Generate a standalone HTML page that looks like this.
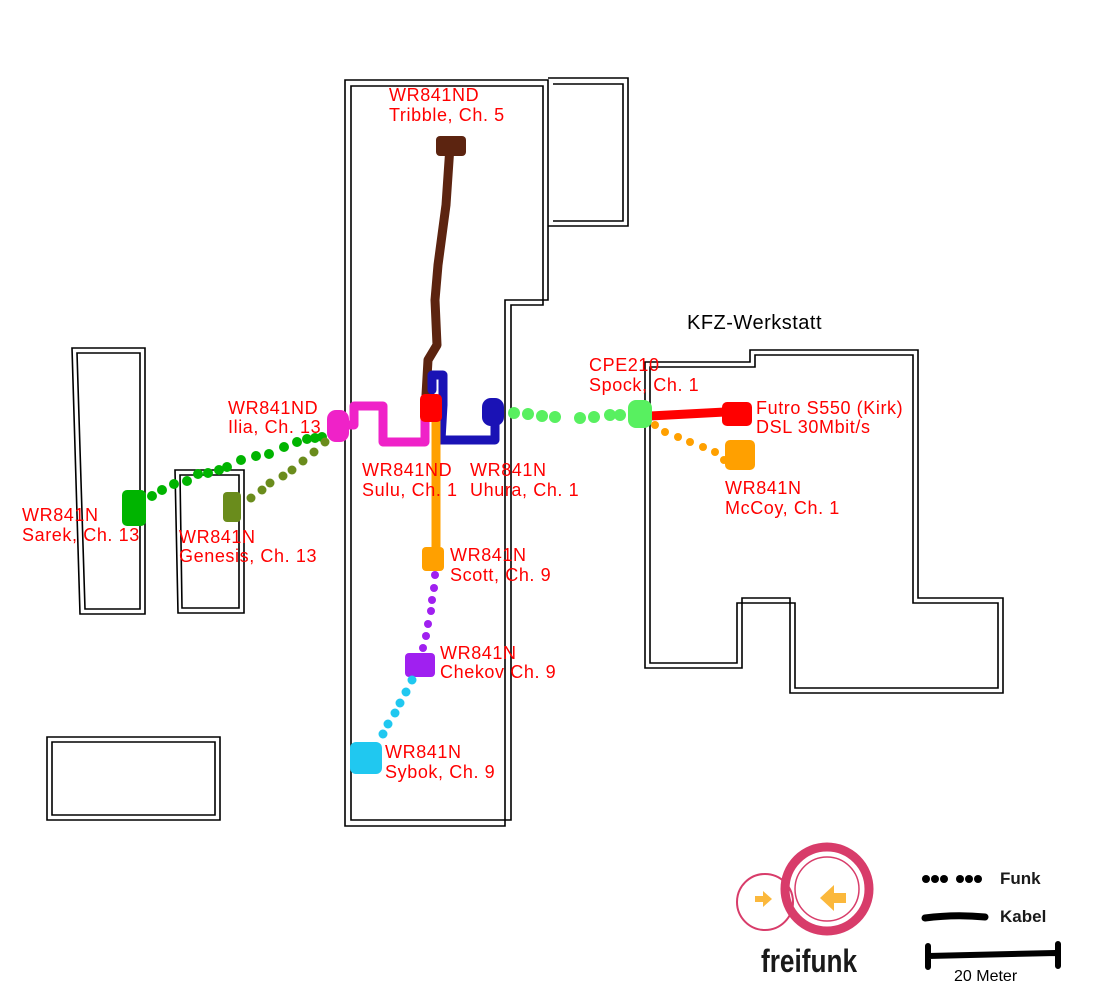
<!DOCTYPE html>
<html><head><meta charset="utf-8"><style>
html,body{margin:0;padding:0;background:#fff;width:1100px;height:1004px;overflow:hidden}
svg{display:block}
.l{font-family:"Liberation Sans",sans-serif;font-size:18px;letter-spacing:0.6px;fill:#ff0000}
.b{fill:none;stroke:#000;stroke-width:1.6}
</style></head><body>
<svg width="1100" height="1004" viewBox="0 0 1100 1004">
<g class="b">
<path d="M345,80 H548 V300 H505 V826 H345 Z"/>
<path d="M351,86 H543 V305 H511 V820 H351 Z"/>
<path d="M548,78 H628 V226 H548"/>
<path d="M553,84 H623 V221 H553"/>
<path d="M645,362 H750 V350 H918 V598 H1003 V693 H790 V598 H742 V668 H645 Z"/>
<path d="M650,367 H755 V355 H913 V603 H998 V688 H795 V603 H737 V663 H650 Z"/>
<path d="M72,348 H145 V614 H80 Z"/>
<path d="M77,353 H140 V609 H85 Z"/>
<path d="M175,470 H244 V613 H178 Z"/>
<path d="M180,475 H239 V608 H182 Z"/>
<path d="M47,737 H220 V820 H47 Z"/>
<path d="M52,742 H215 V815 H52 Z"/>
</g>
<g fill="none" stroke-linecap="round" stroke-linejoin="round" stroke-width="9">
<path d="M450,146 L446,205 438,265 435,300 437,345 428,360 426,395" stroke="#5c2410"/>
<path d="M337,425 H354 V406 H383 V442 H425 V410" stroke="#ef22c8"/>
<path d="M432,390 V375 H443 V405 L441,440 H495 V412" stroke="#1a12b5"/>
<path d="M436,420 V560" stroke="#ffa000"/>
<path d="M650,416 L725,412" stroke="#ff0000"/>
</g>
<rect x="436" y="136" width="30" height="20" rx="4" fill="#5c2410"/>
<rect x="420" y="394" width="22" height="28" rx="5" fill="#ff0000"/>
<rect x="327" y="410" width="22" height="32" rx="9" fill="#ef22c8"/>
<rect x="482" y="398" width="22" height="28" rx="9" fill="#1a12b5"/>
<rect x="422" y="547" width="22" height="24" rx="4" fill="#ffa000"/>
<rect x="405" y="653" width="30" height="24" rx="4" fill="#a020f0"/>
<rect x="350" y="742" width="32" height="32" rx="6" fill="#20c8f0"/>
<rect x="628" y="400" width="24" height="28" rx="8" fill="#58f060"/>
<rect x="722" y="402" width="30" height="24" rx="5" fill="#ff0000"/>
<rect x="725" y="440" width="30" height="30" rx="5" fill="#ffa000"/>
<rect x="122" y="490" width="24" height="36" rx="5" fill="#00b400"/>
<rect x="223" y="492" width="18" height="30" rx="4" fill="#6a8c1c"/>
<g fill="#58f060">
<circle cx="514" cy="413" r="6"/><circle cx="528" cy="414" r="6"/><circle cx="542" cy="416" r="6"/><circle cx="555" cy="417" r="6"/><circle cx="580" cy="418" r="6"/><circle cx="594" cy="417" r="6"/><circle cx="610" cy="415" r="6"/><circle cx="620" cy="415" r="6"/>
</g>
<g fill="#ffa000">
<circle cx="655" cy="425" r="4"/><circle cx="665" cy="432" r="4"/><circle cx="678" cy="437" r="4"/><circle cx="690" cy="442" r="4"/><circle cx="703" cy="447" r="4"/><circle cx="715" cy="452" r="4"/><circle cx="724" cy="460" r="4"/>
</g>
<g fill="#a020f0">
<circle cx="435" cy="575" r="4"/><circle cx="434" cy="588" r="4"/><circle cx="432" cy="600" r="4"/><circle cx="431" cy="611" r="4"/><circle cx="428" cy="624" r="4"/><circle cx="426" cy="636" r="4"/><circle cx="423" cy="648" r="4"/>
</g>
<g fill="#20c8f0">
<circle cx="412" cy="680" r="4.5"/><circle cx="406" cy="692" r="4.5"/><circle cx="400" cy="703" r="4.5"/><circle cx="395" cy="713" r="4.5"/><circle cx="388" cy="724" r="4.5"/><circle cx="383" cy="734" r="4.5"/>
</g>
<g fill="#00b400">
<circle cx="152" cy="496" r="5"/><circle cx="162" cy="490" r="5"/><circle cx="174" cy="484" r="5"/><circle cx="187" cy="481" r="5"/><circle cx="198" cy="474" r="5"/><circle cx="208" cy="473" r="5"/><circle cx="219" cy="470" r="5"/><circle cx="227" cy="467" r="5"/><circle cx="241" cy="460" r="5"/><circle cx="256" cy="456" r="5"/><circle cx="269" cy="454" r="5"/><circle cx="284" cy="447" r="5"/><circle cx="297" cy="442" r="5"/><circle cx="307" cy="439" r="5"/><circle cx="315" cy="438" r="5"/><circle cx="322" cy="437" r="5"/>
</g>
<g fill="#6a8c1c">
<circle cx="251" cy="498" r="4.5"/><circle cx="262" cy="490" r="4.5"/><circle cx="270" cy="483" r="4.5"/><circle cx="283" cy="476" r="4.5"/><circle cx="292" cy="470" r="4.5"/><circle cx="303" cy="461" r="4.5"/><circle cx="314" cy="452" r="4.5"/><circle cx="325" cy="442" r="4.5"/>
</g>
<g class="l">
<text x="389" y="101">WR841ND</text><text x="389" y="121">Tribble, Ch. 5</text>
<text x="228" y="414">WR841ND</text><text x="228" y="433">Ilia, Ch. 13</text>
<text x="362" y="476">WR841ND</text><text x="362" y="496">Sulu, Ch. 1</text>
<text x="470" y="476">WR841N</text><text x="470" y="496">Uhura, Ch. 1</text>
<text x="589" y="371">CPE210</text><text x="589" y="391">Spock, Ch. 1</text>
<text x="756" y="414">Futro S550 (Kirk)</text><text x="756" y="433">DSL 30Mbit/s</text>
<text x="725" y="494">WR841N</text><text x="725" y="514">McCoy, Ch. 1</text>
<text x="22" y="521">WR841N</text><text x="22" y="541">Sarek, Ch. 13</text>
<text x="179" y="543">WR841N</text><text x="179" y="562">Genesis, Ch. 13</text>
<text x="450" y="561">WR841N</text><text x="450" y="581">Scott, Ch. 9</text>
<text x="440" y="659">WR841N</text><text x="440" y="678">Chekov Ch. 9</text>
<text x="385" y="758">WR841N</text><text x="385" y="778">Sybok, Ch. 9</text>
</g>
<text x="687" y="329" font-family="Liberation Sans,sans-serif" font-size="20" letter-spacing="0.5" fill="#000">KFZ-Werkstatt</text>
<circle cx="765" cy="902" r="28" fill="none" stroke="#d83c6a" stroke-width="2"/>
<circle cx="827" cy="889" r="42" fill="none" stroke="#d83c6a" stroke-width="9"/>
<circle cx="827" cy="889" r="32" fill="none" stroke="#d83c6a" stroke-width="1.5"/>
<path d="M755,896 h8 v-5 l9,8 -9,8 v-5 h-8z" fill="#fbb83c"/>
<path d="M846,893 h-12 v-8 l-14,13 14,13 v-8 h12z" fill="#fbb83c"/>
<text x="761" y="972" font-family="Liberation Sans,sans-serif" font-weight="bold" font-size="32" fill="#1a1a1a" textLength="96" lengthAdjust="spacingAndGlyphs">freifunk</text>
<g fill="#000">
<circle cx="926" cy="879" r="4"/><circle cx="935" cy="879" r="4"/><circle cx="944" cy="879" r="4"/><circle cx="960" cy="879" r="4"/><circle cx="969" cy="879" r="4"/><circle cx="978" cy="879" r="4"/>
</g>
<path d="M925,918 Q955,914 985,917" stroke="#000" stroke-width="7" stroke-linecap="round" fill="none"/>
<path d="M928,946 V967 M928,956 L1055,953 M1058,944 V966" stroke="#000" stroke-width="6" stroke-linecap="round" fill="none"/>
<g font-family="Liberation Sans,sans-serif" font-weight="bold" font-size="17" fill="#1a1a1a">
<text x="1000" y="884">Funk</text><text x="1000" y="922">Kabel</text>
</g>
<text x="954" y="981" font-family="Liberation Sans,sans-serif" font-size="16" fill="#000">20 Meter</text>
</svg>
</body></html>
